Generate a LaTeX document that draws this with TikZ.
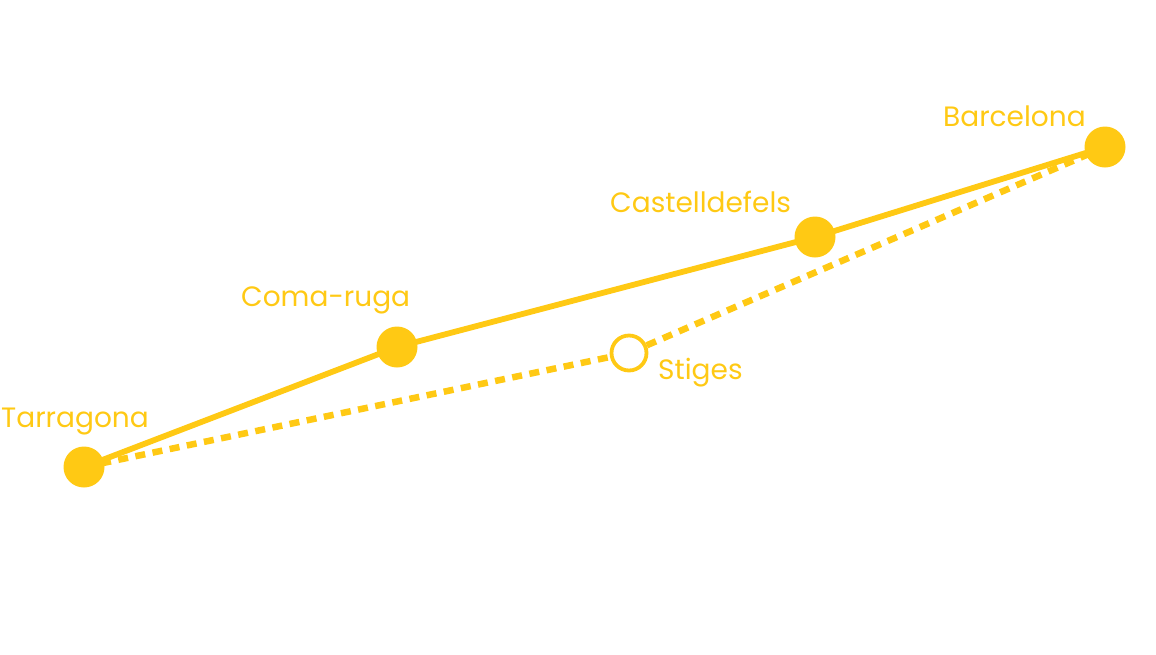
\documentclass[tikz,border=0pt]{standalone}
\usepackage{fontspec}
\setmainfont{Poppins}
\usetikzlibrary{backgrounds}
\definecolor{gold}{RGB}{255,201,20}
\tikzset{
  stop/.style={circle,fill=gold,inner sep=0pt,minimum size=41pt},
  openstop/.style={circle,draw=gold,line width=3.8pt,fill=white,inner sep=0pt,minimum size=35pt},
  route/.style={draw=gold,line width=5.8pt},
  alt/.style={draw=gold,line width=6.5pt,dash pattern=on 10pt off 7.5pt},
  lbl/.style={text=gold,font=\fontsize{28}{33}\selectfont,anchor=base west,inner sep=0pt}
}
\begin{document}
\begin{tikzpicture}[x=1pt,y=-1pt]
\useasboundingbox (0,0) rectangle (1156,654);
\node[stop] (T) at (84,467) {};
\node[stop] (C) at (397,347) {};
\node[stop] (K) at (815,237) {};
\node[stop] (B) at (1105,147) {};
\node[openstop] (S) at (629,353) {};
\begin{scope}[on background layer]
\draw[route] (T.center) -- (C.center) -- (K.center) -- (B.center);
\draw[alt] (T.center) -- (S);
\draw[alt] (S) -- (B.center);
\end{scope}
\node[lbl] (tl) at (1,427) {Tarragona};
\node[lbl] (cl) at (241,306) {Coma-ruga};
\node[lbl] (kl) at (610,212) {Castelldefels};
\node[lbl] (bl) at (943,126) {Barcelona};
\node[lbl] (sl) at (658,379) {Stiges};
\end{tikzpicture}
\end{document}
